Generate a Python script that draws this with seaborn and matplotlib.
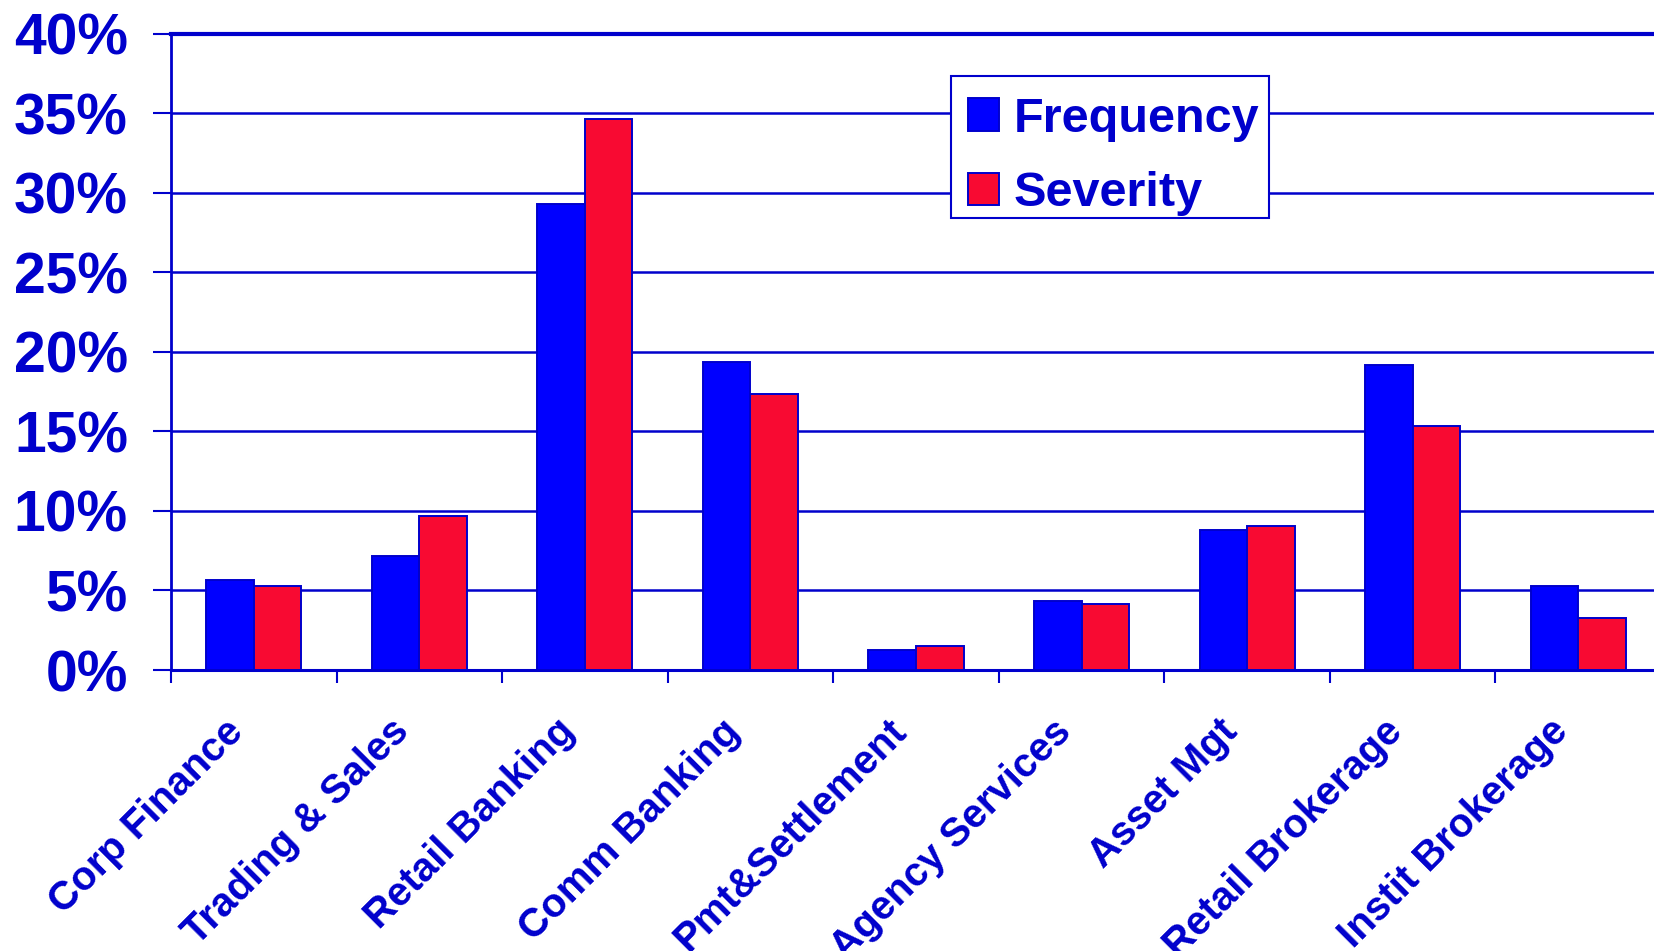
import matplotlib
matplotlib.use("Agg")
import matplotlib.pyplot as plt
import matplotlib.ticker as mticker
from matplotlib.patches import Rectangle
from matplotlib.transforms import ScaledTranslation, IdentityTransform
import numpy as np
import pandas as pd
import seaborn as sns

# Business lines and their share of operational loss events / loss amounts (%)
business_lines = [
    "Corp Finance", "Trading & Sales", "Retail Banking", "Comm Banking",
    "Pmt&Settlement", "Agency Services", "Asset Mgt", "Retail Brokerage",
    "Instit Brokerage",
]
frequency = [5.67, 7.18, 29.3, 19.37, 1.28, 4.31, 8.82, 19.16, 5.29]
severity = [5.27, 9.68, 34.64, 17.38, 1.53, 4.16, 9.05, 15.31, 3.30]
series_names = ["Frequency", "Severity"]
y_ticks = [0, 5, 10, 15, 20, 25, 30, 35, 40]

INK = "#0000CC"
BAR_BLUE = "#0000FF"
BAR_RED = "#F80A32"

df = pd.DataFrame({
    "Business line": business_lines * 2,
    "Share": frequency + severity,
    "Measure": [series_names[0]] * len(business_lines) + [series_names[1]] * len(business_lines),
})

sns.set_theme(style="white")
plt.rcParams["font.family"] = ["Liberation Sans", "DejaVu Sans"]
plt.rcParams["font.weight"] = "bold"

fig = plt.figure(figsize=(16.54, 9.51), dpi=100)
# plot area runs slightly past the right edge of the canvas
ax = fig.add_axes([171 / 1654, 1 - 670 / 951, (1661 - 171) / 1654, (670 - 33.8) / 951])

sns.barplot(
    data=df, x="Business line", y="Share", hue="Measure",
    order=business_lines, hue_order=series_names,
    palette=[BAR_BLUE, BAR_RED], saturation=1, width=0.574,
    edgecolor=INK, linewidth=1.4, ax=ax, zorder=3,
)

ax.set_xlim(-0.5, len(business_lines) - 0.5)
ax.set_ylim(0, 40)
ax.set_xlabel("")
ax.set_ylabel("")

# horizontal gridlines
ax.set_yticks(y_ticks)
ax.yaxis.set_major_formatter(mticker.FuncFormatter(lambda v, _: f"{v:.0f}%"))
ax.yaxis.grid(True, color=INK, linewidth=1.8, zorder=0)
ax.set_axisbelow(True)

for side in ("left", "bottom", "top"):
    ax.spines[side].set_color(INK)
ax.spines["left"].set_linewidth(2.0)
ax.spines["bottom"].set_linewidth(2.2)
ax.spines["top"].set_linewidth(3.0)
ax.spines["right"].set_visible(False)

ax.tick_params(axis="y", which="major", direction="out", length=13, width=1.5,
               color=INK, pad=18, labelsize=41, labelcolor=INK, left=True)
for lbl in ax.get_yticklabels():
    lbl.set_fontweight("bold")

# category labels at bar group centres, tick marks between categories
ax.set_xticks(np.arange(len(business_lines)))
ax.set_xticks(np.arange(len(business_lines) + 1) - 0.5, minor=True)
ax.tick_params(axis="x", which="major", length=0, pad=40, labelsize=29, labelcolor=INK)
ax.tick_params(axis="x", which="minor", direction="out", length=9.5, width=1.5,
               color=INK, bottom=True)
ax.set_xticklabels(business_lines, rotation=45, ha="right", va="center",
                   rotation_mode="anchor", fontweight="bold")
shift = ScaledTranslation(-0.16, 0, fig.dpi_scale_trans)
for lbl in ax.get_xticklabels():
    lbl.set_transform(lbl.get_transform() + shift)

leg = ax.legend(
    loc="upper left", bbox_to_anchor=(0.535, 0.9014), borderaxespad=0,
    frameon=False,
    prop={"family": ["Liberation Sans"], "weight": "bold", "size": 35},
    handlelength=0.64, handleheight=0.64, handletextpad=0.3,
    borderpad=0, labelspacing=0.6,
)
leg.set_zorder(6)
for t in leg.get_texts():
    t.set_color(INK)

# legend frame drawn around the legend contents
fig.canvas.draw()
bb = leg.get_window_extent()
pad_l, pad_r, pad_t, pad_b = 17, 10, 21, 2
frame = Rectangle(
    (bb.x0 - pad_l, bb.y0 - pad_b), bb.width + pad_l + pad_r, bb.height + pad_t + pad_b,
    transform=IdentityTransform(), facecolor="white", edgecolor=INK,
    linewidth=1.5, zorder=5,
)
ax.add_artist(frame)

fig.savefig("out.png", dpi=100, facecolor="white")
